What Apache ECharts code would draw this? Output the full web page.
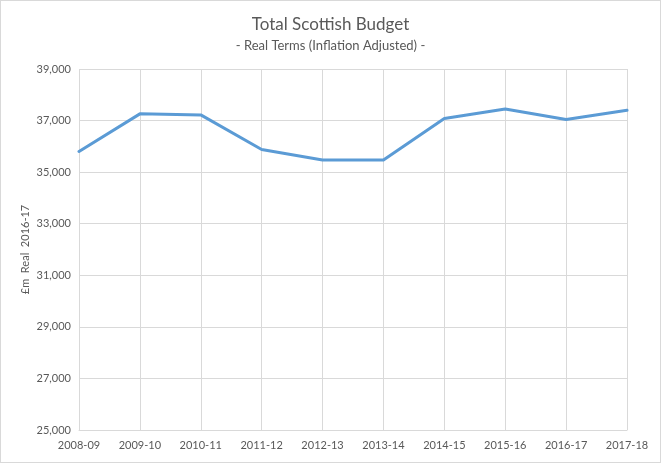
<!DOCTYPE html>
<html>
<head>
<meta charset="utf-8">
<script src="https://cdn.jsdelivr.net/npm/echarts@6/dist/echarts.min.js"></script>
<style>
html,body{margin:0;padding:0;background:#fff;}
#c{width:659px;height:461px;border:1px solid #d9d9d9;}
</style>
</head>
<body>
<div id="c"></div>
<script>
const categories = ['2008-09','2009-10','2010-11','2011-12','2012-13','2013-14','2014-15','2015-16','2016-17','2017-18'];
const budget = [35800, 37260, 37220, 35880, 35470, 35470, 37080, 37450, 37040, 37400];
const titleText = 'Total Scottish Budget';
const subtitleText = '- Real Terms (Inflation Adjusted) -';
const yAxisName = '£m  Real  2016-17';

const chart = echarts.init(document.getElementById('c'));
const font = 'Lato, "Open Sans", sans-serif';
chart.setOption({
  animation: false,
  textStyle: {fontFamily: font},
  title: {
    text: titleText,
    subtext: subtitleText,
    left: 'center',
    top: 10,
    itemGap: 6,
    textStyle: {fontFamily: font, fontSize: 17, fontWeight: 'normal', color: '#595959'},
    subtextStyle: {fontFamily: font, fontSize: 13, color: '#595959'}
  },
  grid: {left: 78, right: 33, top: 68, bottom: 32},
  xAxis: {
    type: 'category',
    data: categories,
    boundaryGap: false,
    axisLine: {show: true, lineStyle: {color: '#d9d9d9'}},
    axisTick: {show: false},
    axisLabel: {color: '#595959', fontSize: 11, margin: 10, fontFamily: font},
    splitLine: {show: true, lineStyle: {color: '#d9d9d9', width: 1}}
  },
  yAxis: {
    type: 'value',
    min: 25000,
    max: 39000,
    interval: 2000,
    name: yAxisName,
    nameLocation: 'middle',
    nameGap: 48,
    nameMoveOverlap: false,
    nameTextStyle: {color: '#595959', fontSize: 11, fontFamily: font},
    axisLine: {show: false},
    axisTick: {show: false},
    axisLabel: {
      color: '#595959', fontSize: 11, margin: 8, fontFamily: font,
      formatter: v => v.toLocaleString('en-US')
    },
    splitLine: {show: true, lineStyle: {color: '#d9d9d9', width: 1}}
  },
  series: [{
    type: 'line',
    data: budget,
    symbol: 'none',
    lineStyle: {color: '#5b9bd5', width: 3, cap: 'round', join: 'round'}
  }]
});
</script>
</body>
</html>
